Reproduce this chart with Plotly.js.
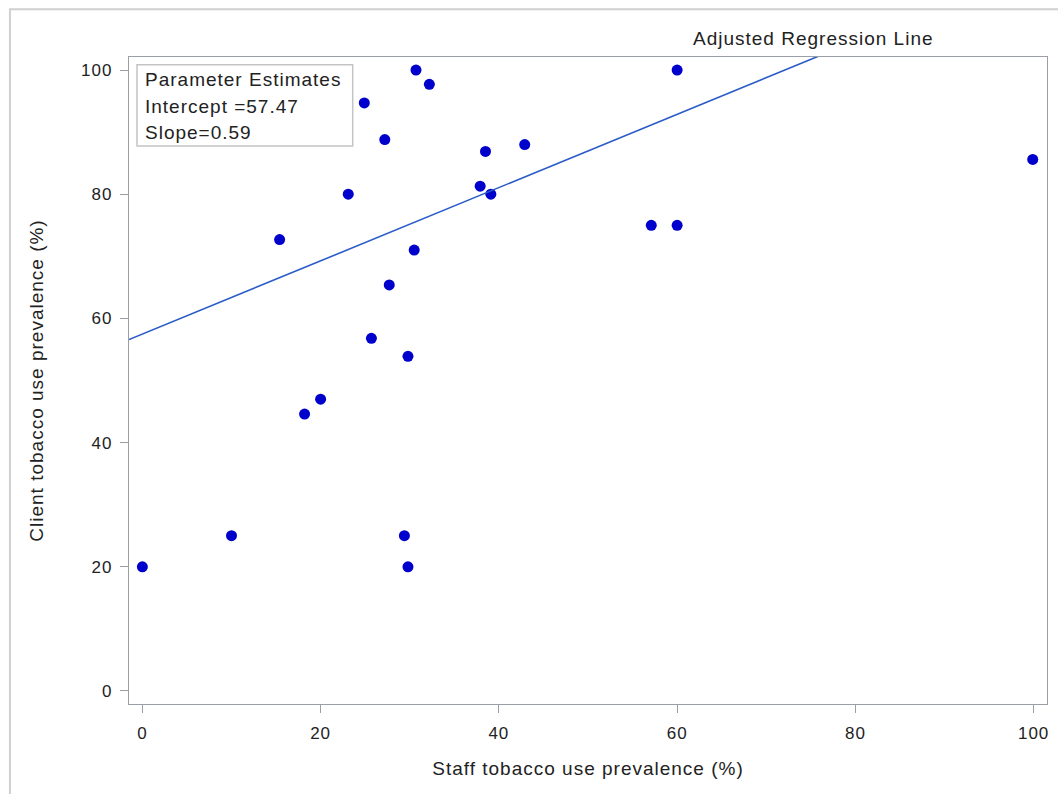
<!DOCTYPE html>
<html>
<head>
<meta charset="utf-8">
<script src="https://cdn.plot.ly/plotly-3.0.1.min.js"></script>
<style>
html,body{margin:0;padding:0;background:#fff;}
#chart{width:1058px;height:794px;}
text{letter-spacing:1px;}
</style>
</head>
<body>
<div id="chart"></div>
<script>
// Data
const staffPrevalence = [0, 10, 15.4, 18.2, 20.0, 23.1, 24.9, 25.7, 27.2, 27.7, 29.4, 29.8, 29.8, 30.5, 30.7, 32.2, 37.9, 38.5, 39.1, 42.9, 57.1, 60, 60, 99.9];
const clientPrevalence = [20, 25, 72.7, 44.6, 47.0, 80.0, 94.7, 56.8, 88.8, 65.4, 25, 53.9, 20, 71.0, 100, 97.7, 81.3, 86.9, 80.0, 88.0, 75, 75, 100, 85.6];
const intercept = 57.47;
const slope = 0.59;
const xRange = [-1.5, 101.5];
const yRange = [-2.1, 102.1];
const xTicks = [0, 20, 40, 60, 80, 100];
const yTicks = [0, 20, 40, 60, 80, 100];

const lineX = [xRange[0], xRange[1]];
const lineY = lineX.map(v => intercept + slope * v);

const FONT = "Liberation Sans, Arial, sans-serif";

const traces = [
  {
    x: staffPrevalence, y: clientPrevalence,
    type: 'scatter', mode: 'markers',
    marker: {color: '#0000cc', size: 11},
    hoverinfo: 'x+y', showlegend: false, cliponaxis: true
  },
  {
    x: lineX, y: lineY,
    type: 'scatter', mode: 'lines',
    line: {color: '#2a5cc8', width: 1.6},
    showlegend: false, hoverinfo: 'skip'
  }
];

const axisCommon = {
  showgrid: false, zeroline: false,
  showline: true, linecolor: '#9a9ea6', linewidth: 1.2, mirror: true,
  ticks: 'outside', ticklen: 8, tickcolor: '#9a9ea6', tickwidth: 1,
  tickfont: {family: FONT, size: 17, color: '#222'},
  tickmode: 'array', fixedrange: true
};

const layout = {
  width: 1058, height: 794,
  paper_bgcolor: '#fff', plot_bgcolor: '#fff',
  margin: {l: 129, r: 11, t: 57, b: 90},
  font: {family: FONT, color: '#222'},
  xaxis: Object.assign({}, axisCommon, {
    range: xRange, tickvals: xTicks, ticktext: xTicks.map(String),
    ticklabelstandoff: 5,
    title: {text: 'Staff tobacco use prevalence (%)', font: {family: FONT, size: 19, color: '#222'}, standoff: 20}
  }),
  yaxis: Object.assign({}, axisCommon, {
    range: yRange, tickvals: yTicks, ticktext: yTicks.map(String),
    ticklabelstandoff: 4,
    title: {text: 'Client tobacco use prevalence (%)', font: {family: FONT, size: 19, color: '#222'}, standoff: 32}
  }),
  shapes: [
    {type: 'rect', xref: 'paper', yref: 'paper', x0: -0.1297, x1: 1.02, y0: -0.2, y1: 1.0737,
     line: {color: '#d0d0d0', width: 2}, fillcolor: 'rgba(0,0,0,0)'},
    {type: 'rect', xref: 'x', yref: 'y', x0: -0.6, x1: 23.6, y0: 87.76, y1: 100.85,
     line: {color: '#c4c4c4', width: 1.5}, fillcolor: 'rgba(255,255,255,0)'}
  ],
  annotations: [
    {text: 'Adjusted Regression Line', xref: 'paper', yref: 'paper', x: 0.746, y: 1.028,
     xanchor: 'center', yanchor: 'middle', showarrow: false, font: {family: FONT, size: 19, color: '#222'}},
    {text: 'Parameter Estimates', xref: 'x', yref: 'y', x: 0.1, y: 98.4,
     xanchor: 'left', yanchor: 'middle', showarrow: false, font: {family: FONT, size: 19, color: '#222'}},
    {text: 'Intercept =57.47', xref: 'x', yref: 'y', x: 0.1, y: 94.2,
     xanchor: 'left', yanchor: 'middle', showarrow: false, font: {family: FONT, size: 19, color: '#222'}},
    {text: 'Slope=0.59', xref: 'x', yref: 'y', x: 0.1, y: 90.0,
     xanchor: 'left', yanchor: 'middle', showarrow: false, font: {family: FONT, size: 19, color: '#222'}}
  ]
};

Plotly.newPlot('chart', traces, layout, {displayModeBar: false, staticPlot: true});
</script>
</body>
</html>
